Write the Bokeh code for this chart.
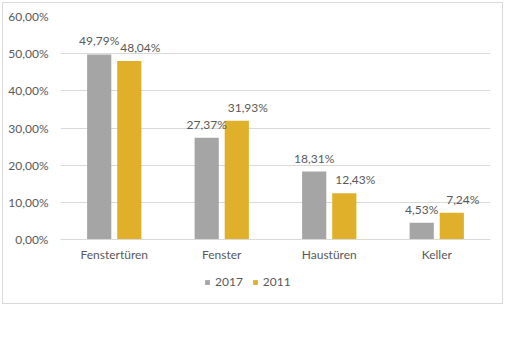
from bokeh.plotting import figure
from bokeh.models import (ColumnDataSource, FactorRange, Range1d, FixedTicker,
                          Legend, LegendItem)
from bokeh.transform import dodge
from bokeh.core.properties import value
from bokeh.embed import file_html
from bokeh.resources import INLINE

categories = ["Fenstertüren", "Fenster", "Haustüren", "Keller"]
values_2017 = [49.79, 27.37, 18.31, 4.53]
values_2011 = [48.04, 31.93, 12.43, 7.24]
series_names = ["2017", "2011"]
y_ticks = [0, 10, 20, 30, 40, 50, 60]
y_tick_labels = ["0,00%", "10,00%", "20,00%", "30,00%", "40,00%", "50,00%", "60,00%"]

FONT = "Lato"
TXT = "#595959"
GRAY = "#A5A5A5"
GOLD = "#E1B02A"

def fmt(v):
    return ("%.2f%%" % v).replace(".", ",")

src = ColumnDataSource(dict(
    cat=categories,
    v17=values_2017,
    v11=values_2011,
    l17=[fmt(v) for v in values_2017],
    l11=[fmt(v) for v in values_2011],
))

p = figure(width=505, height=306, x_range=FactorRange(*categories),
           y_range=Range1d(-18.0, 60), output_backend="svg", toolbar_location=None,
           min_border_left=60, min_border_right=15, min_border_top=16,
           min_border_bottom=0)
p.background_fill_alpha = 0
p.border_fill_alpha = 0
p.outline_line_color = None
p.styles = {"outline": "1px solid #D9D9D9", "outline-offset": "-3px"}

off = 0.14
w = 0.225
r17 = p.vbar(x=dodge("cat", -off, range=p.x_range), top="v17", width=w,
             source=src, fill_color=GRAY, line_color=None)
r11 = p.vbar(x=dodge("cat", off, range=p.x_range), top="v11", width=w,
             source=src, fill_color=GOLD, line_color=None)

p.text(x=dodge("cat", -off, range=p.x_range), y="v17", text="l17", source=src,
       text_align="center", text_baseline="bottom", y_offset=-6,
       text_font=value(FONT), text_font_size="12px", text_color=TXT)
p.text(x=dodge("cat", off, range=p.x_range), y="v11", text="l11", source=src,
       text_align="center", text_baseline="bottom", y_offset=-6, x_offset=11,
       text_font=value(FONT), text_font_size="12px", text_color=TXT)

# axes
p.yaxis.ticker = FixedTicker(ticks=y_ticks)
p.yaxis.major_label_overrides = {t: l for t, l in zip(y_ticks, y_tick_labels)}
p.yaxis.axis_line_color = None
p.yaxis.major_tick_line_color = None
p.yaxis.minor_tick_line_color = None
p.yaxis.major_label_standoff = 6
p.yaxis.major_label_text_font = FONT
p.yaxis.major_label_text_font_size = "12px"
p.yaxis.major_label_text_color = TXT

p.xaxis.fixed_location = 0
p.xaxis.axis_line_color = "#D9D9D9"
p.xaxis.major_tick_line_color = None
p.xaxis.minor_tick_line_color = None
p.xaxis.major_label_standoff = 1
p.xaxis.major_label_text_font = FONT
p.xaxis.major_label_text_font_size = "12px"
p.xaxis.major_label_text_color = TXT

p.xgrid.grid_line_color = None
p.ygrid.grid_line_color = "#D9D9D9"
p.ygrid.grid_line_width = 1

legend = Legend(items=[LegendItem(label=series_names[0], renderers=[r17]),
                       LegendItem(label=series_names[1], renderers=[r11])],
                orientation="horizontal", location=(144, 17))
legend.glyph_width = 6
legend.glyph_height = 6
legend.label_height = 14
legend.label_text_font = FONT
legend.label_text_font_size = "12px"
legend.label_text_color = TXT
legend.label_standoff = 5
legend.spacing = 9
legend.padding = 0
legend.margin = 0
legend.border_line_color = None
legend.background_fill_alpha = 0
p.add_layout(legend, "center")

open("out.html", "w").write(file_html(p, INLINE))
